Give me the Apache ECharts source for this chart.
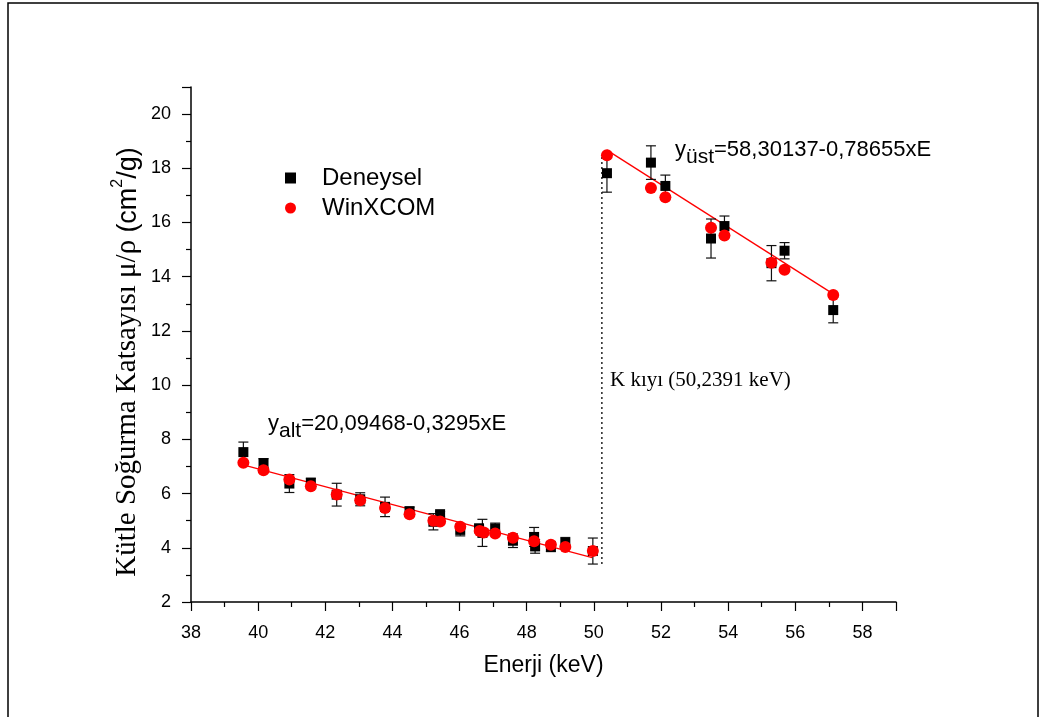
<!DOCTYPE html>
<html>
<head>
<meta charset="utf-8">
<script src="https://cdn.jsdelivr.net/npm/echarts@6/dist/echarts.min.js"></script>
<style>
html,body{margin:0;padding:0;background:#fff;}
#chart{width:1042px;height:717px;}
</style>
</head>
<body>
<div id="chart"></div>
<script>
// ---- Data ----
// Deneysel (experimental) points: energy (keV), mass attenuation (cm2/g), error
const expEnergy = [39.56, 40.16, 40.93, 41.57, 42.34, 43.04, 43.78, 44.51, 45.22, 45.42, 46.02, 46.58, 46.68, 47.06, 47.59, 48.22, 48.25, 48.72, 49.15, 49.97,
                   50.39, 51.70, 52.13, 53.49, 53.89, 55.29, 55.68, 57.13];
const expValue  = [7.53, 7.12, 6.37, 6.39, 5.96, 5.79, 5.51, 5.35, 4.96, 5.24, 4.66, 4.72, 4.55, 4.71, 4.26, 4.40, 4.05, 4.04, 4.18, 3.88,
                   17.82, 18.21, 17.35, 15.41, 15.87, 14.50, 14.96, 12.77];
const expError  = [0.37, 0.17, 0.33, 0.18, 0.42, 0.24, 0.36, 0.15, 0.30, 0.10, 0.22, 0.10, 0.50, 0.20, 0.25, 0.35, 0.25, 0.18, 0.20, 0.48,
                   0.70, 0.62, 0.40, 0.72, 0.37, 0.65, 0.30, 0.47];
// WinXCOM (calculated) points
const calcEnergy = [39.56, 40.16, 40.93, 41.57, 42.34, 43.04, 43.78, 44.51, 45.22, 45.42, 46.02, 46.60, 46.72, 47.06, 47.59, 48.22, 48.72, 49.15, 49.97,
                    50.39, 51.70, 52.13, 53.49, 53.89, 55.29, 55.68, 57.13];
const calcValue  = [7.14, 6.86, 6.52, 6.27, 5.97, 5.75, 5.47, 5.24, 5.00, 4.97, 4.78, 4.62, 4.56, 4.53, 4.37, 4.24, 4.11, 4.03, 3.88,
                    18.48, 17.27, 16.93, 15.81, 15.52, 14.52, 14.26, 13.33];
// Fit line end points
const lowerFitE = [39.44, 49.95];
const lowerFitV = [7.10, 3.64];
const upperFitE = [50.39, 57.15];
const upperFitV = [18.67, 13.35];
// K edge marker
const kEdgeE = [50.2391, 50.2391];
const kEdgeV = [3.40, 18.50];
// Axis ticks
const xTicks = [38, 40, 42, 44, 46, 48, 50, 52, 54, 56, 58];
const yTicks = [2, 4, 6, 8, 10, 12, 14, 16, 18, 20];
const seriesNames = ['Deneysel', 'WinXCOM'];

const zip = (a, b) => a.map((v, i) => [v, b[i]]);
const expData = zip(expEnergy, expValue);
const calcData = zip(calcEnergy, calcValue);
const errData = expEnergy.map((e, i) => [e, expValue[i] - expError[i], expValue[i] + expError[i]]);

const SANS = '"Liberation Sans", Arial, sans-serif';
const SERIF = '"Liberation Serif", "Times New Roman", serif';

const chart = echarts.init(document.getElementById('chart'), null, {renderer: 'canvas'});
chart.setOption({
  animation: false,
  backgroundColor: '#fff',
  grid: {left: 191, right: 146, top: 87, bottom: 115},
  xAxis: {
    type: 'value', min: 38, max: 59, interval: 2,
    name: 'Enerji (keV)', nameLocation: 'middle', nameGap: 52,
    nameTextStyle: {fontFamily: SANS, fontSize: 23, color: '#000'},
    axisLine: {lineStyle: {color: '#000', width: 1.5}},
    axisTick: {show: true, length: 9, lineStyle: {color: '#000', width: 1.2}},
    minorTick: {show: true, splitNumber: 2, length: 5, lineStyle: {color: '#000', width: 1.2}},
    axisLabel: {fontFamily: SANS, fontSize: 18, color: '#000', margin: 22,
      formatter: v => xTicks.indexOf(v) >= 0 ? String(v) : ''},
    splitLine: {show: false}
  },
  yAxis: {
    type: 'value', min: 2, max: 21, interval: 2,
    axisLine: {show: true, lineStyle: {color: '#000', width: 1.5}},
    axisTick: {show: true, length: 9, lineStyle: {color: '#000', width: 1.2}},
    minorTick: {show: true, splitNumber: 2, length: 5, lineStyle: {color: '#000', width: 1.2}},
    axisLabel: {fontFamily: SANS, fontSize: 18, color: '#000', margin: 20,
      formatter: v => yTicks.indexOf(v) >= 0 ? String(v) : ''},
    splitLine: {show: false}
  },
  legend: {
    orient: 'vertical', left: 280, top: 161, itemGap: 6,
    itemWidth: 11, itemHeight: 11,
    data: seriesNames,
    formatter: n => '{t|' + n + '}',
    textStyle: {rich: {t: {fontFamily: SANS, fontSize: 24, color: '#000', padding: [0, 0, 0, 21]}}}
  },
  series: [
    {
      type: 'line', data: zip(kEdgeE, kEdgeV), symbol: 'none', silent: true,
      lineStyle: {color: '#000', width: 1.3, type: [2, 3]}, z: 1
    },
    {
      type: 'line', data: zip(lowerFitE, lowerFitV), symbol: 'none',
      lineStyle: {color: '#ff0000', width: 1.3}, z: 2
    },
    {
      type: 'line', data: zip(upperFitE, upperFitV), symbol: 'none',
      lineStyle: {color: '#ff0000', width: 1.3}, z: 2
    },
    {
      type: 'custom', z: 3,
      data: errData,
      renderItem: function (params, api) {
        const x = api.value(0);
        const lo = api.coord([x, api.value(1)]);
        const hi = api.coord([x, api.value(2)]);
        const w = 5;
        const st = {stroke: '#111', lineWidth: 1.2};
        return {
          type: 'group',
          children: [
            {type: 'line', shape: {x1: lo[0], y1: lo[1], x2: hi[0], y2: hi[1]}, style: st},
            {type: 'line', shape: {x1: lo[0] - w, y1: lo[1], x2: lo[0] + w, y2: lo[1]}, style: st},
            {type: 'line', shape: {x1: hi[0] - w, y1: hi[1], x2: hi[0] + w, y2: hi[1]}, style: st}
          ]
        };
      }
    },
    {
      name: 'Deneysel', type: 'scatter', data: expData, symbol: 'rect', symbolSize: 10,
      itemStyle: {color: '#000', opacity: 1}, z: 4
    },
    {
      name: 'WinXCOM', type: 'scatter', data: calcData, symbol: 'circle', symbolSize: 12,
      itemStyle: {color: '#ff0000', opacity: 1}, z: 5
    }
  ],
  graphic: [
    {type: 'rect', shape: {x: 8, y: 3, width: 1030, height: 730}, style: {fill: 'none', stroke: '#000', lineWidth: 1.5}, silent: true},
    {
      type: 'text', x: 126, y: 362, rotation: Math.PI / 2,
      style: {
        text: '{s|Kütle Soğurma Katsayısı μ/ρ }{a|(cm}{sup|2}{a|/g)}',
        align: 'center', verticalAlign: 'middle',
        rich: {
          s: {fontFamily: SERIF, fontSize: 29, fill: '#000', lineHeight: 32, verticalAlign: 'bottom'},
          a: {fontFamily: SANS, fontSize: 27, fill: '#000', lineHeight: 32, verticalAlign: 'bottom'},
          sup: {fontFamily: SANS, fontSize: 16, fill: '#000', lineHeight: 16, verticalAlign: 'top'}
        }
      }
    },
    {
      type: 'text', x: 268, y: 413,
      style: {
        text: '{m|y}{sub|alt}{m|=20,09468-0,3295xE}',
        rich: {
          m: {fontFamily: SANS, fontSize: 22, fill: '#000', lineHeight: 24, verticalAlign: 'top'},
          sub: {fontFamily: SANS, fontSize: 21, fill: '#000', lineHeight: 24, padding: [8, 0, 0, 0], verticalAlign: 'top'}
        }
      }
    },
    {
      type: 'text', x: 675, y: 139,
      style: {
        text: '{m|y}{sub|üst}{m|=58,30137-0,78655xE}',
        rich: {
          m: {fontFamily: SANS, fontSize: 22, fill: '#000', lineHeight: 24, verticalAlign: 'top'},
          sub: {fontFamily: SANS, fontSize: 21, fill: '#000', lineHeight: 24, padding: [8, 0, 0, 0], verticalAlign: 'top'}
        }
      }
    },
    {
      type: 'text', x: 610, y: 380,
      style: {text: 'K kıyı (50,2391 keV)', fontFamily: SERIF, fontSize: 21, fill: '#000', verticalAlign: 'middle'}
    }
  ]
});
</script>
</body>
</html>
